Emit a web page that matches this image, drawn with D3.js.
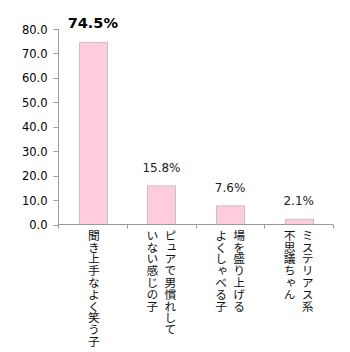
<!DOCTYPE html>
<html>
<head>
<meta charset="utf-8">
<script src="https://cdnjs.cloudflare.com/ajax/libs/d3/7.8.5/d3.min.js"></script>
<style>
	body { margin: 0; background: #fff; }
	svg { display: block; }
	.tick-label { font-family: "DejaVu Sans", sans-serif; font-size: 11.5px; fill: #000; }
	.val { font-family: "DejaVu Sans", sans-serif; font-size: 12px; fill: #222; }
	.val.big { font-size: 14.5px; font-weight: bold; fill: #000; }
	.cat { font-family: "Noto Sans CJK JP", sans-serif; font-size: 11.8px; fill: #111; writing-mode: vertical-rl; }
</style>
</head>
<body>
<div id="chart"></div>
<script>
const categories = ["聞き上手なよく笑う子", "ピュアで男慣れしていない感じの子", "場を盛り上げるよくしゃべる子", "ミステリアス系不思議ちゃん"];
// label lines, first line drawn rightmost as in vertical Japanese
const catLines = [
	["聞き上手なよく笑う子"],
	["ピュアで男慣れして", "いない感じの子"],
	["場を盛り上げる", "よくしゃべる子"],
	["ミステリアス系", "不思議ちゃん"]
];
const values = [74.5, 15.8, 7.6, 2.1];
const yTicks = [0, 10, 20, 30, 40, 50, 60, 70, 80];

const W = 350, H = 352;
const mLeft = 58.5, mRight = 333, mTop = 29, mBottom = 224.5;

const svg = d3.select("#chart").append("svg")
	.attr("width", W)
	.attr("height", H);

const x = d3.scaleBand().domain(categories).range([mLeft, mRight]).padding(0);
const y = d3.scaleLinear().domain([0, 80]).range([mBottom, mTop]);
const barW = x.bandwidth() * 0.41;

// y axis
svg.append("line")
	.attr("x1", mLeft).attr("x2", mLeft)
	.attr("y1", y(80)).attr("y2", mBottom + 4)
	.attr("stroke", "#9a9a9a");
yTicks.forEach(function(t) {
	svg.append("line")
		.attr("x1", mLeft - 5).attr("x2", mLeft)
		.attr("y1", Math.round(y(t)) + 0.5).attr("y2", Math.round(y(t)) + 0.5)
		.attr("stroke", "#9a9a9a");
	svg.append("text")
		.attr("class", "tick-label")
		.attr("x", mLeft - 11)
		.attr("y", y(t) + 4.5)
		.attr("text-anchor", "end")
		.text(t.toFixed(1));
});

// bars
categories.forEach(function(c, i) {
	const cx = x(c) + x.bandwidth() / 2;
	svg.append("rect")
		.attr("x", Math.round(cx - barW / 2) + 0.5)
		.attr("y", y(values[i]))
		.attr("width", Math.round(barW))
		.attr("height", mBottom - y(values[i]))
		.attr("fill", "#ffccdd")
		.attr("stroke", "#c8c0c4");

	svg.append("text")
		.attr("class", i === 0 ? "val big" : "val")
		.attr("x", cx)
		.attr("y", y(values[i]) - 14)
		.attr("text-anchor", "middle")
		.text(values[i].toFixed(1) + "%");

	const lines = catLines[i],
			n = lines.length;
	lines.forEach(function(line, j) {
		const off = n === 1 ? 1 : (n - 1) / 2 * 18 - j * 18;
		svg.append("text")
			.attr("class", "cat")
			.attr("x", cx + off)
			.attr("y", mBottom + 5)
			.text(line);
	});
});

// x axis
svg.append("line")
	.attr("x1", mLeft).attr("x2", mRight)
	.attr("y1", mBottom).attr("y2", mBottom)
	.attr("stroke", "#9a9a9a");
categories.forEach(function(c) {
	const tx = Math.round(x(c) + x.bandwidth()) + 0.5;
	svg.append("line")
		.attr("x1", tx).attr("x2", tx)
		.attr("y1", mBottom).attr("y2", mBottom + 4)
		.attr("stroke", "#9a9a9a");
});
</script>
</body>
</html>
